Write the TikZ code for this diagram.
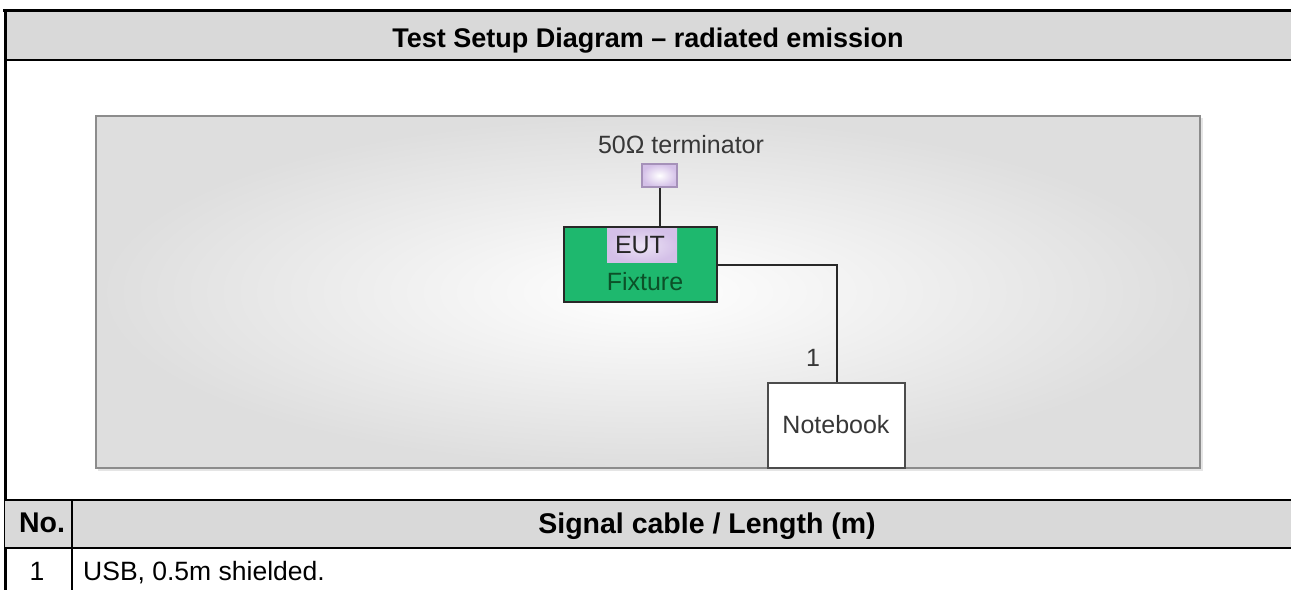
\documentclass[tikz,border=0pt]{standalone}
\usepackage{fontspec}
\setmainfont{Liberation Sans}
\begin{document}
\begin{tikzpicture}[x=1pt,y=-1pt,
  titletext/.style={font=\fontsize{27}{30}\selectfont\bfseries, text=black, anchor=base, inner sep=0pt},
  hdrtext/.style={font=\fontsize{28.5}{32}\selectfont\bfseries, text=black, anchor=base, inner sep=0pt},
  celltext/.style={font=\fontsize{26.5}{30}\selectfont, text=black, anchor=base, inner sep=0pt},
  dtext/.style={font=\fontsize{25}{28}\selectfont, text=txtgray, anchor=base, inner sep=0pt},
  cable/.style={draw=cablegray, line width=2pt},
  purplebox/.style={draw=purpleedge, line width=1.5pt, inner color=white, outer color=purplefill},
]
\definecolor{hdrgray}{RGB}{217,217,217}
\definecolor{txtgray}{RGB}{55,55,55}
\definecolor{cablegray}{RGB}{40,40,40}
\definecolor{paneledge}{RGB}{140,140,140}
\definecolor{fixgreen}{RGB}{30,184,110}
\definecolor{fixtext}{RGB}{12,80,40}
\definecolor{purplefill}{RGB}{212,192,232}
\definecolor{purpleedge}{RGB}{165,145,185}
\useasboundingbox (0,0) rectangle (1291,590);
\fill[white] (0,0) rectangle (1291,590);
% header band
\fill[hdrgray] (5,12) rectangle (1291,59);
\draw[line width=3pt] (3,10.5) -- (1291,10.5);
\draw[line width=2pt] (5,60) -- (1291,60);
\draw[line width=3pt] (5.5,9) -- (5.5,590);
\node[titletext] (title) at (648,47) {Test Setup Diagram -- radiated emission};
% diagram panel
\fill[black!10] (98,118) rectangle (1203,471);
\shade[inner color=white, outer color=black!13] (96,116) rectangle (1200,468);
\draw[paneledge, line width=2pt] (96,116) rectangle (1200,468);
% nodes
\node[dtext] (termlabel) at (681,153) {50Ω terminator};
\node[purplebox, minimum width=35pt, minimum height=23pt, inner sep=0pt] (term) at (659.5,175.5) {};
\node[draw=cablegray, line width=2pt, fill=fixgreen, minimum width=153pt, minimum height=75pt, inner sep=0pt] (fixture) at (640.5,264.5) {};
\node[inner color=white!55!purplefill, outer color=purplefill, minimum width=70pt, minimum height=34pt, inner sep=0pt] (eut) at (642,245.5) {};
\node[dtext, text=black!85] (eutlabel) at (640,253) {EUT};
\node[dtext, text=fixtext] (fixlabel) at (645,290) {Fixture};
\node[draw=black!70, line width=2pt, fill=white, minimum width=137pt, minimum height=85pt, inner sep=0pt] (notebook) at (836.5,425.5) {};
\node[dtext] (nblabel) at (836,433) {Notebook};
% connectors
\draw[cable] (term.south) -- (term.south |- eut.north);
\draw[cable] (fixture.east) -| (notebook.north);
\node[dtext] (cablelabel) at (813,366) {1};
% table
\fill[hdrgray] (5,501) rectangle (1291,547);
\draw[line width=1.5pt] (5,500) -- (1291,500);
\draw[line width=2.5pt] (5,548) -- (1291,548);
\draw[line width=1.5pt] (72,500) -- (72,590);
\node[hdrtext] (nohdr) at (42,532) {No.};
\node[hdrtext] (sighdr) at (707,533) {Signal cable / Length (m)};
\node[celltext] (no1) at (37,580) {1};
\node[celltext, anchor=base west] (sig1) at (83,580) {USB, 0.5m shielded.};
\end{tikzpicture}
\end{document}
